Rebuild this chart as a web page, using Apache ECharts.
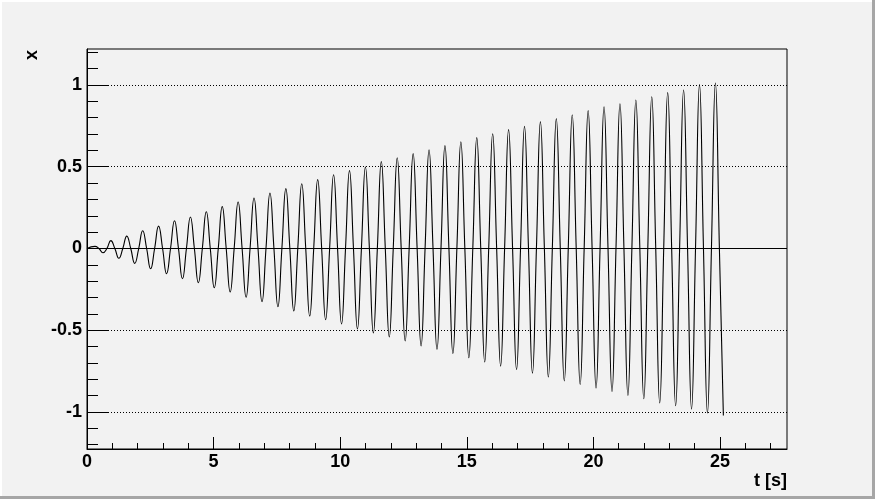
<!DOCTYPE html>
<html>
<head>
<meta charset="utf-8">
<script src="https://cdn.jsdelivr.net/npm/echarts@6/dist/echarts.min.js"></script>
<style>
html,body{margin:0;padding:0;background:#f2f2f2;}
#c{width:875px;height:499px;}
</style>
</head>
<body>
<div id="c"></div>
<script>
// Times (s) of the maxima/minima
const extremaT = [0.314,0.628,0.942,1.257,1.571,1.885,2.199,2.513,2.827,3.142,
  3.456,3.770,4.084,4.398,4.712,5.027,5.341,5.655,5.969,6.283,
  6.597,6.912,7.226,7.540,7.854,8.168,8.482,8.796,9.111,9.425,
  9.739,10.053,10.367,10.681,10.996,11.310,11.624,11.938,12.252,12.566,
  12.881,13.195,13.509,13.823,14.137,14.451,14.765,15.080,15.394,15.708,
  16.022,16.336,16.650,16.965,17.279,17.593,17.907,18.221,18.535,18.850,
  19.164,19.478,19.792,20.106,20.420,20.735,21.049,21.363,21.677,21.991,
  22.305,22.619,22.934,23.248,23.562,23.876,24.190,24.504,24.819,25.133];
// x values at those maxima/minima
const extremaX = [0.013,-0.026,0.048,-0.060,0.076,-0.091,0.109,-0.124,0.137,-0.154,
  0.170,-0.185,0.193,-0.209,0.225,-0.240,0.256,-0.266,0.284,-0.298,
  0.309,-0.325,0.339,-0.356,0.366,-0.382,0.396,-0.413,0.421,-0.435,
  0.451,-0.462,0.476,-0.492,0.498,-0.517,0.531,-0.541,0.555,-0.566,
  0.580,-0.596,0.604,-0.617,0.629,-0.643,0.653,-0.668,0.678,-0.694,
  0.702,-0.719,0.727,-0.741,0.747,-0.762,0.776,-0.786,0.794,-0.810,
  0.818,-0.832,0.843,-0.853,0.867,-0.874,0.885,-0.898,0.908,-0.919,
  0.928,-0.945,0.953,-0.961,0.969,-0.982,1.002,-1.006,1.012,-1.021];
// Times (s) of the zero crossings between consecutive extrema
const zeroT = [0.471,0.785,1.100,1.414,1.728,2.042,2.356,2.670,2.985,3.299,
  3.613,3.927,4.241,4.555,4.869,5.184,5.498,5.812,6.126,6.440,
  6.754,7.069,7.383,7.697,8.011,8.325,8.639,8.954,9.268,9.582,
  9.896,10.210,10.524,10.838,11.153,11.467,11.781,12.095,12.409,12.723,
  13.038,13.352,13.666,13.980,14.294,14.608,14.923,15.237,15.551,15.865,
  16.179,16.493,16.808,17.122,17.436,17.750,18.064,18.378,18.692,19.007,
  19.321,19.635,19.949,20.263,20.577,20.892,21.206,21.520,21.834,22.148,
  22.462,22.777,23.091,23.405,23.719,24.033,24.347,24.662,24.976];

const xMajorTicks = [0,5,10,15,20,25];
const xMinorTicks = [1,2,3,4,6,7,8,9,11,12,13,14,16,17,18,19,21,22,23,24,26,27];
const yMajorTicks = [-1,-0.5,0,0.5,1];
const yMinorTicks = [-1.2,-1.1,-0.9,-0.8,-0.7,-0.6,-0.4,-0.3,-0.2,-0.1,0.1,0.2,0.3,0.4,0.6,0.7,0.8,0.9,1.1,1.2];
const yGridLines = [1,0.5,-0.5,-1];
const xRange = [0, 27.646];
const yRange = [-1.226, 1.220];

const pts = [[0,0]];
for (let i = 0; i < extremaT.length; i++) {
  pts.push([extremaT[i], extremaX[i]]);
  if (i < zeroT.length) pts.push([zeroT[i], 0]);
}

const FONT = '"Liberation Sans", Arial, Helvetica, sans-serif';
const lbl = {fontFamily: FONT, fontWeight: 'bold', fontSize: 18, color: '#000'};

const chart = echarts.init(document.getElementById('c'), null, {renderer: 'canvas'});
chart.setOption({
  animation: false,
  backgroundColor: '#f2f2f2',
  grid: {left: 87, top: 49, width: 700, height: 400, show: true,
         borderColor: '#000', borderWidth: 1, backgroundColor: '#f2f2f2'},
  xAxis: [
    {type: 'value', min: xRange[0], max: xRange[1], position: 'bottom',
     axisLine: {onZero: false, lineStyle: {color: '#000', width: 1}},
     splitLine: {show: false},
     axisTick: {inside: true, length: 12, customValues: xMajorTicks, lineStyle: {color: '#000', width: 1}},
     axisLabel: Object.assign({customValues: xMajorTicks, margin: 4}, lbl)},
    {type: 'value', min: xRange[0], max: xRange[1], position: 'bottom',
     axisLine: {show: false, onZero: false},
     splitLine: {show: false},
     axisTick: {inside: true, length: 6, customValues: xMinorTicks, lineStyle: {color: '#000', width: 1}},
     axisLabel: {show: false}}
  ],
  yAxis: [
    {type: 'value', min: yRange[0], max: yRange[1], position: 'left',
     axisLine: {show: true, onZero: false, lineStyle: {color: '#000', width: 1}},
     splitLine: {show: false},
     axisTick: {show: true, inside: true, length: 22, customValues: yMajorTicks, lineStyle: {color: '#000', width: 1}},
     axisLabel: Object.assign({customValues: yMajorTicks, margin: 5}, lbl)},
    {type: 'value', min: yRange[0], max: yRange[1], position: 'left',
     axisLine: {show: false, onZero: false},
     splitLine: {show: false},
     axisTick: {show: true, inside: true, length: 11, customValues: yMinorTicks, lineStyle: {color: '#000', width: 1}},
     axisLabel: {show: false}}
  ],
  graphic: [
    {type: 'rect', shape: {x: 0, y: 0, width: 875, height: 2}, style: {fill: '#ffffff'}, silent: true},
    {type: 'rect', shape: {x: 0, y: 0, width: 2, height: 499}, style: {fill: '#ffffff'}, silent: true},
    {type: 'rect', shape: {x: 0, y: 496, width: 875, height: 3}, style: {fill: '#a6a6a6'}, silent: true},
    {type: 'rect', shape: {x: 872, y: 0, width: 3, height: 499}, style: {fill: '#a6a6a6'}, silent: true},
    {type: 'text', x: 787, y: 472, style: {text: 't [s]', font: 'bold 18px ' + FONT, fill: '#000', align: 'right', verticalAlign: 'top'}},
    {type: 'text', x: 32, y: 55, rotation: Math.PI / 2, style: {text: 'x', font: 'bold 18px ' + FONT, fill: '#000', align: 'center', verticalAlign: 'middle'}}
  ],
  series: [{
    type: 'line', xAxisIndex: 0, yAxisIndex: 0,
    data: pts, showSymbol: false, smooth: 0.5,
    lineStyle: {color: '#000', width: 1.1},
    markLine: {
      silent: true, symbol: 'none', label: {show: false},
      lineStyle: {color: '#000', width: 1, type: [1, 2]},
      data: yGridLines.map(v => ({yAxis: v})).concat([{yAxis: 0, lineStyle: {type: 'solid', color: '#000', width: 1}}])
    }
  }]
});
</script>
</body>
</html>
